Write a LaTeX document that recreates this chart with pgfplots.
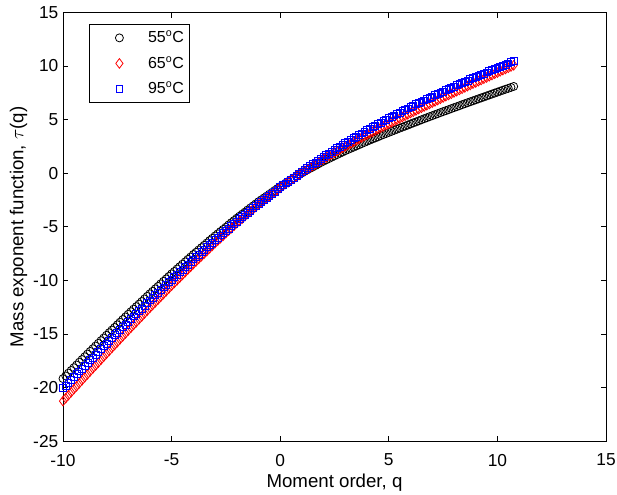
\documentclass[border=0pt]{standalone}
\usepackage{pgfplots}
\pgfplotsset{compat=1.18}
\usepackage{pgfplotstable}
\usepackage{fontspec}
\setmainfont{Liberation Sans}

\pgfplotstableread{
q k r b
-10 -19.15 -21.25 -20.05
-9.75 -18.64 -20.70 -19.53
-9.5 -18.13 -20.14 -19.00
-9.25 -17.62 -19.59 -18.48
-9 -17.11 -19.03 -17.95
-8.75 -16.61 -18.48 -17.43
-8.5 -16.11 -17.94 -16.92
-8.25 -15.61 -17.39 -16.40
-8 -15.11 -16.84 -15.88
-7.75 -14.62 -16.30 -15.37
-7.5 -14.13 -15.76 -14.87
-7.25 -13.64 -15.22 -14.36
-7 -13.15 -14.68 -13.85
-6.75 -12.67 -14.15 -13.35
-6.5 -12.20 -13.62 -12.86
-6.25 -11.72 -13.09 -12.36
-6 -11.24 -12.56 -11.86
-5.75 -10.78 -12.04 -11.38
-5.5 -10.31 -11.53 -10.89
-5.25 -9.85 -11.01 -10.41
-5 -9.38 -10.49 -9.92
-4.75 -8.93 -9.99 -9.45
-4.5 -8.48 -9.48 -8.98
-4.25 -8.03 -8.98 -8.51
-4 -7.58 -8.47 -8.04
-3.75 -7.15 -7.98 -7.59
-3.5 -6.72 -7.50 -7.14
-3.25 -6.28 -7.01 -6.68
-3 -5.85 -6.52 -6.23
-2.75 -5.44 -6.06 -5.80
-2.5 -5.03 -5.59 -5.37
-2.25 -4.61 -5.13 -4.93
-2 -4.20 -4.66 -4.50
-1.75 -3.82 -4.23 -4.09
-1.5 -3.43 -3.79 -3.68
-1.25 -3.05 -3.36 -3.27
-1 -2.66 -2.92 -2.86
-0.75 -2.31 -2.53 -2.47
-0.5 -1.96 -2.14 -2.09
-0.25 -1.60 -1.74 -1.70
0 -1.25 -1.35 -1.31
0.25 -0.93 -1.00 -0.95
0.5 -0.61 -0.65 -0.59
0.75 -0.29 -0.30 -0.22
1 0.03 0.05 0.14
1.25 0.31 0.37 0.48
1.5 0.58 0.69 0.83
1.75 0.86 1.01 1.17
2 1.13 1.33 1.51
2.25 1.37 1.63 1.83
2.5 1.62 1.92 2.16
2.75 1.86 2.22 2.48
3 2.10 2.51 2.80
3.25 2.32 2.78 3.10
3.5 2.54 3.06 3.41
3.75 2.76 3.33 3.71
4 2.98 3.60 4.01
4.25 3.19 3.85 4.29
4.5 3.39 4.11 4.57
4.75 3.60 4.36 4.85
5 3.80 4.61 5.13
5.25 4.00 4.86 5.39
5.5 4.20 5.11 5.65
5.75 4.39 5.36 5.91
6 4.59 5.61 6.17
6.25 4.78 5.85 6.42
6.5 4.98 6.10 6.66
6.75 5.17 6.34 6.91
7 5.36 6.58 7.15
7.25 5.55 6.82 7.38
7.5 5.74 7.06 7.62
7.75 5.92 7.29 7.85
8 6.11 7.53 8.08
8.25 6.29 7.76 8.30
8.5 6.48 8.00 8.53
8.75 6.66 8.23 8.75
9 6.84 8.46 8.97
9.25 7.02 8.69 9.19
9.5 7.20 8.92 9.40
9.75 7.38 9.15 9.62
10 7.56 9.38 9.83
10.25 7.74 9.61 10.04
10.5 7.91 9.83 10.24
10.75 8.09 10.06 10.45
}\tautable

\pgfplotstableread{
q k r b
-9.875 -18.90 -20.98 -19.79
-9.625 -18.39 -20.42 -19.27
-9.375 -17.88 -19.87 -18.74
-9.125 -17.37 -19.31 -18.22
-8.875 -16.86 -18.76 -17.69
-8.625 -16.36 -18.21 -17.18
-8.375 -15.86 -17.67 -16.66
-8.125 -15.36 -17.12 -16.14
-7.875 -14.87 -16.57 -15.63
-7.625 -14.38 -16.03 -15.12
-7.375 -13.89 -15.49 -14.62
-7.125 -13.40 -14.95 -14.11
-6.875 -12.91 -14.42 -13.60
-6.625 -12.44 -13.89 -13.11
-6.375 -11.96 -13.36 -12.61
-6.125 -11.48 -12.83 -12.11
-5.875 -11.01 -12.30 -11.62
-5.625 -10.55 -11.79 -11.14
-5.375 -10.08 -11.27 -10.65
-5.125 -9.62 -10.75 -10.17
-4.875 -9.16 -10.24 -9.69
-4.625 -8.71 -9.74 -9.22
-4.375 -8.26 -9.23 -8.75
-4.125 -7.81 -8.73 -8.28
-3.875 -7.37 -8.23 -7.82
-3.625 -6.94 -7.74 -7.37
-3.375 -6.50 -7.26 -6.91
-3.125 -6.07 -6.77 -6.46
-2.875 -5.65 -6.29 -6.02
-2.625 -5.24 -5.83 -5.59
-2.375 -4.82 -5.36 -5.15
-2.125 -4.41 -4.90 -4.72
-1.875 -4.01 -4.45 -4.30
-1.625 -3.63 -4.01 -3.89
-1.375 -3.24 -3.58 -3.48
-1.125 -2.86 -3.14 -3.07
-0.875 -2.49 -2.73 -2.67
-0.625 -2.14 -2.34 -2.28
-0.375 -1.78 -1.94 -1.90
-0.125 -1.43 -1.55 -1.51
0.125 -1.09 -1.18 -1.13
0.375 -0.77 -0.83 -0.77
0.625 -0.45 -0.48 -0.41
0.875 -0.13 -0.13 -0.04
1.125 0.17 0.21 0.31
1.375 0.45 0.53 0.66
1.625 0.72 0.85 1.00
1.875 1.00 1.17 1.34
2.125 1.25 1.48 1.67
2.375 1.50 1.78 2.00
2.625 1.74 2.07 2.32
2.875 1.98 2.37 2.64
3.125 2.21 2.65 2.95
3.375 2.43 2.92 3.26
3.625 2.65 3.20 3.56
3.875 2.87 3.47 3.86
4.125 3.09 3.73 4.15
4.375 3.29 3.98 4.43
4.625 3.50 4.24 4.71
4.875 3.70 4.49 4.99
5.125 3.90 4.74 5.26
5.375 4.10 4.99 5.52
5.625 4.30 5.24 5.78
5.875 4.49 5.49 6.04
6.125 4.69 5.73 6.30
6.375 4.88 5.98 6.54
6.625 5.08 6.22 6.79
6.875 5.27 6.46 7.03
7.125 5.46 6.70 7.27
7.375 5.65 6.94 7.50
7.625 5.83 7.18 7.74
7.875 6.02 7.41 7.97
8.125 6.20 7.65 8.19
8.375 6.39 7.88 8.42
8.625 6.57 8.12 8.64
8.875 6.75 8.35 8.86
9.125 6.93 8.58 9.08
9.375 7.11 8.81 9.30
9.625 7.29 9.04 9.51
9.875 7.47 9.27 9.73
10.125 7.65 9.50 9.94
10.375 7.83 9.72 10.14
10.625 8.00 9.95 10.35
}\tautablemid

\begin{document}
\begin{tikzpicture}
\begin{axis}[
  at={(0,0)}, anchor=south west,
  scale only axis, width=407.25pt, height=321.75pt,
  xmin=-10, xmax=15, ymin=-25, ymax=15,
  xtick={-10,-5,...,15}, ytick={-25,-20,...,15},
  tick align=inside, major tick length=4pt,
  tick style={black, line width=0.5pt},
  axis line style={black, line width=0.6pt},
  /pgf/number format/assume math mode=true,
  tick label style={font=\fontsize{13}{15}\selectfont},
  xticklabel style={yshift=-6pt},
  label style={font=\fontsize{14}{16}\selectfont},
  xlabel={Moment order, q},
  ylabel={Mass exponent function, $\tau$(q)},
  xlabel style={at={(axis description cs:0.5,-0.097)}, anchor=center},
  ylabel style={at={(axis description cs:-0.082,0.5)}, anchor=center},
  clip=false,
  legend style={at={(axis description cs:0.0479,0.9727)}, anchor=north west,
    draw=black, line width=0.6pt, font=\fontsize{12}{14}\selectfont,
    inner xsep=2pt, inner ysep=3pt, row sep=5pt},
  legend cell align=left,
  legend image code/.code={\path[draw=none,fill=none] (-20.5pt,0pt) rectangle (19.5pt,0.1pt); \draw[#1] plot coordinates {(0pt,0pt)};},
]
\addplot[only marks, mark=o, mark size=3pt, black, mark options={line width=0.6pt}] table[x=q,y=k] {\tautable};
\addlegendentry{55\textsuperscript{o}C}
\addplot[forget plot, only marks, mark=o, mark size=3pt, black, mark options={line width=0.6pt}] table[x=q,y=k] {\tautablemid};
\addplot[only marks, mark=diamond, mark size=3.6pt, red, mark options={line width=0.6pt}] table[x=q,y=r] {\tautable};
\addlegendentry{65\textsuperscript{o}C}
\addplot[forget plot, only marks, mark=diamond, mark size=3.6pt, red, mark options={line width=0.6pt}] table[x=q,y=r] {\tautablemid};
\addplot[only marks, mark=square, mark size=2.6pt, blue, mark options={line width=0.6pt}] table[x=q,y=b] {\tautable};
\addlegendentry{95\textsuperscript{o}C}
\addplot[forget plot, only marks, mark=square, mark size=2.6pt, blue, mark options={line width=0.6pt}] table[x=q,y=b] {\tautablemid};
\end{axis}
\pgfresetboundingbox
\path ([xshift=-47.25pt,yshift=-39.75pt]current axis.south west) rectangle ([xshift=8.25pt,yshift=9.25pt]current axis.north east);
\end{tikzpicture}
\end{document}
